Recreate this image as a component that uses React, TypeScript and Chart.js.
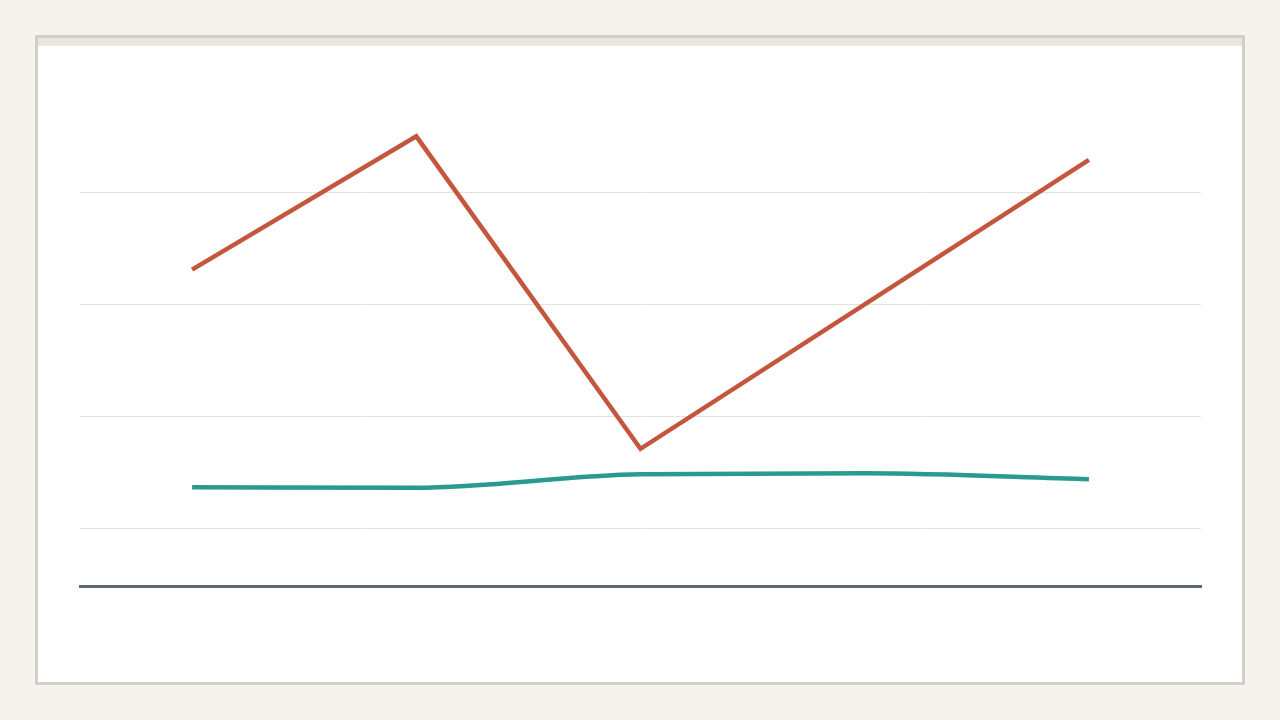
import React, { useEffect, useRef } from "react";
import { Chart, registerables } from "chart.js";

Chart.register(...registerables);

const categories = ["A", "B", "C", "D", "E"];
const seriesRed = [33.1, 45.0, 17.1, 30.0, 42.9];
const seriesTeal = [13.66, 13.62, 14.82, 14.91, 14.38];
const yMin = 4.85;
const yMax = 49.05;
const yStep = 10;

export default function App() {
  const ref = useRef<HTMLCanvasElement | null>(null);

  useEffect(() => {
    if (!ref.current) return;
    const chart = new Chart(ref.current, {
      type: "line",
      data: {
        labels: categories,
        datasets: [
          {
            label: "Red",
            data: seriesRed,
            borderColor: "#c4563e",
            borderWidth: 4.5,
            pointRadius: 0,
            tension: 0,
            fill: false,
          },
          {
            label: "Teal",
            data: seriesTeal,
            borderColor: "#2a9a8f",
            borderWidth: 4.5,
            pointRadius: 0,
            cubicInterpolationMode: "monotone",
            fill: false,
          },
        ],
      },
      options: {
        responsive: false,
        animation: false,
        devicePixelRatio: 1,
        layout: { padding: { left: 80, right: 79, top: 91, bottom: 134 } },
        plugins: { legend: { display: false }, tooltip: { enabled: false } },
        scales: {
          x: {
            offset: true,
            grid: { display: false, drawTicks: false },
            ticks: { display: false },
            border: { display: true, color: "#5c6677", width: 3 },
          },
          y: {
            min: yMin,
            max: yMax,
            ticks: { display: false, stepSize: yStep, includeBounds: false },
            grid: { color: "#e4e3d8", lineWidth: 1, drawTicks: false },
            border: { display: false },
          },
        },
      },
    });
    return () => chart.destroy();
  }, []);

  return (
    <div style={{ position: "fixed", left: 0, top: 0, width: 1280, height: 720, background: "#f4f3ee" }}>
      <div
        style={{
          position: "absolute",
          left: 35,
          top: 35,
          width: 1210,
          height: 650,
          boxSizing: "border-box",
          border: "3px solid #d3cfc4",
          background: "#ffffff",
        }}
      >
        <div style={{ height: 8, background: "#ebe7de" }} />
      </div>
      <canvas
        ref={ref}
        width={1280}
        height={720}
        style={{ position: "absolute", left: 0, top: 0, width: 1280, height: 720 }}
      />
    </div>
  );
}
